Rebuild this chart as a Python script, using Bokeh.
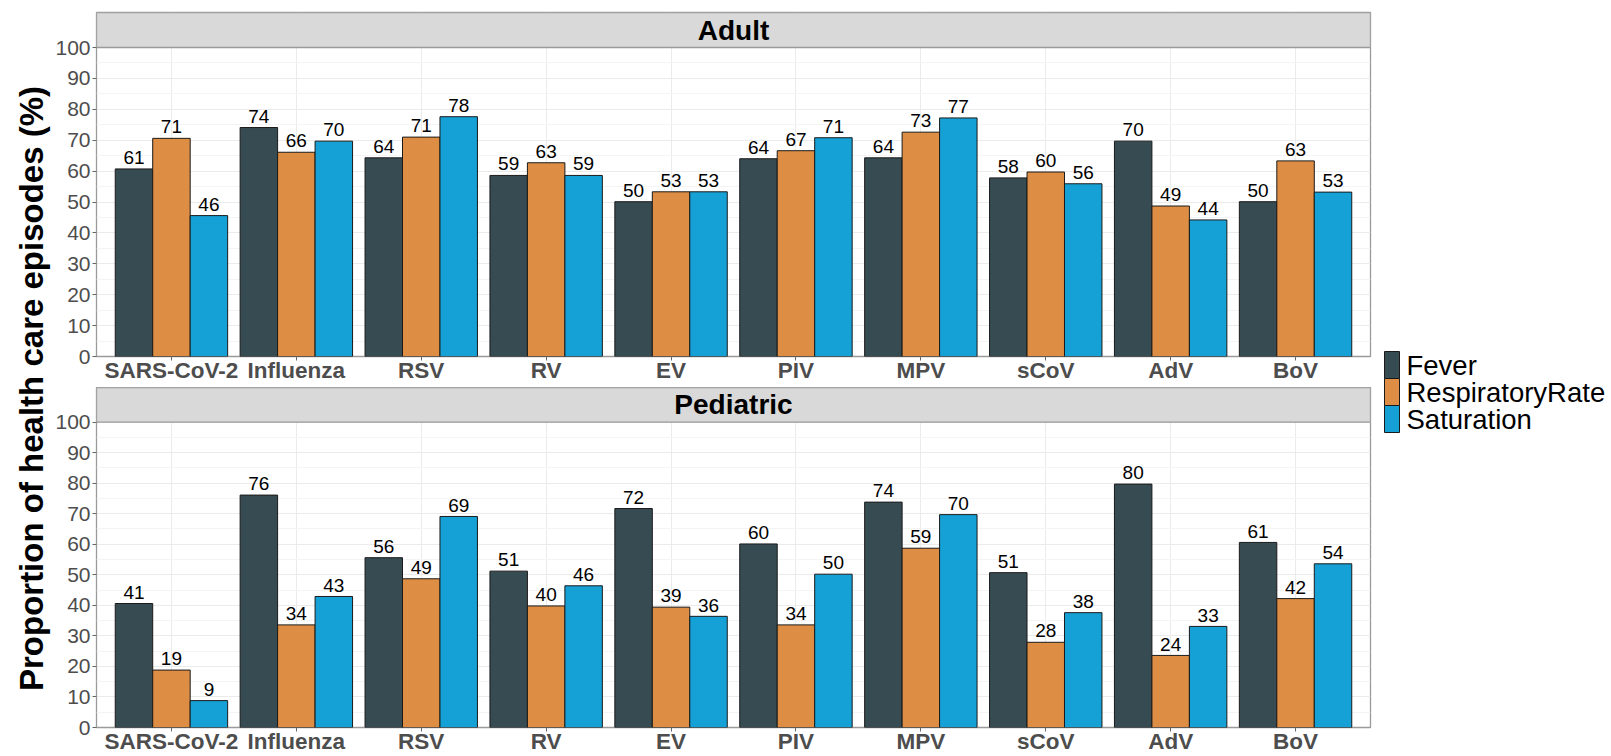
from math import pi
from bokeh.plotting import figure
from bokeh.layouts import row, column
from bokeh.models import Range1d, FixedTicker, ColumnDataSource
from bokeh.transform import dodge
from bokeh.core.properties import value
from bokeh.embed import file_html
from bokeh.resources import INLINE

# ---------------- data ----------------
categories = ["SARS-CoV-2", "Influenza", "RSV", "RV", "EV", "PIV", "MPV", "sCoV", "AdV", "BoV"]
series = ["Fever", "RespiratoryRate", "Saturation"]
colors = ["#374B53", "#DE8E44", "#15A1D5"]
panels = ["Adult", "Pediatric"]

adult_fever = [60.7, 74.1, 64.3, 58.6, 50.1, 64.0, 64.3, 57.8, 69.7, 50.1]
adult_resp = [70.6, 66.1, 71.0, 62.7, 53.3, 66.6, 72.6, 59.7, 48.7, 63.3]
adult_sat = [45.6, 69.7, 77.6, 58.6, 53.3, 70.8, 77.2, 55.9, 44.2, 53.2]

ped_fever = [40.6, 76.1, 55.6, 51.2, 71.7, 60.1, 73.8, 50.7, 79.7, 60.6]
ped_resp = [18.8, 33.6, 48.7, 39.8, 39.4, 33.6, 58.7, 27.9, 23.6, 42.2]
ped_sat = [8.8, 42.9, 69.1, 46.4, 36.4, 50.2, 69.7, 37.6, 33.1, 53.6]

y_ticks = [0, 10, 20, 30, 40, 50, 60, 70, 80, 90, 100]
y_minor = [5, 15, 25, 35, 45, 55, 65, 75, 85, 95]
y_title = "Proportion of health care episodes (%)"

# ---------------- style ----------------
FONT = "Liberation Sans"
BORDER = "#9A9A9A"
GRID = "#EBEBEB"
GRID_MINOR = "#F4F4F4"
TICK_TXT = "#4D4D4D"

TOTAL_H = 756
TITLE_W = 52
LEGEND_W = 239
PANEL_W = 1320
STRIP_H = 35
PLOT_H = 309
TOP_BORDER = 12
GAP = 31
B2 = 25
LABEL_LIFT = 3.7   # gap between bar top and its value label, in axis units


def make_panel(name, fever, resp, sat, top_border, bottom_border):
    ytop = 100.0 * (PLOT_H + STRIP_H) / PLOT_H
    height = top_border + STRIP_H + PLOT_H + bottom_border
    p = figure(width=PANEL_W, height=height,
               x_range=Range1d(0.4, 10.6), y_range=Range1d(0, ytop),
               output_backend="svg", toolbar_location=None,
               min_border_left=41, min_border_right=2,
               min_border_top=top_border, min_border_bottom=bottom_border)
    p.background_fill_color = "white"
    p.border_fill_color = "white"
    p.outline_line_color = BORDER
    p.outline_line_width = 1.3

    labels = {}
    for s, vals in zip(series, [fever, resp, sat]):
        labels[s + "_lbl"] = [str(int(v + 0.5)) for v in vals]
    src = ColumnDataSource(dict(xi=list(range(1, len(categories) + 1)),
                                Fever=fever, RespiratoryRate=resp, Saturation=sat,
                                **labels))

    offsets = [-0.3, 0.0, 0.3]
    for s, c, off in zip(series, colors, offsets):
        p.vbar(x=dodge("xi", off), top=s, bottom=0, width=0.3, source=src,
               fill_color=c, line_color="#1A1A1A", line_width=1)
        p.text(x=dodge("xi", off), y=dodge(s, LABEL_LIFT), text=s + "_lbl", source=src,
               text_align="center", text_baseline="alphabetic",
               text_font=value(FONT), text_font_size="19px", text_color="black")

    # facet strip
    p.quad(left=[0.4], right=[10.6], bottom=[100], top=[ytop],
           fill_color="#D9D9D9", line_color=BORDER, line_width=1.3)
    p.text(x=[5.5], y=[(100 + ytop) / 2], text=[name], text_align="center",
           text_baseline="middle", text_font=value(FONT), text_font_size="28px",
           text_font_style="bold", text_color="black")

    # axes
    p.xaxis.ticker = FixedTicker(ticks=list(range(1, len(categories) + 1)))
    p.xaxis.major_label_overrides = {i + 1: c for i, c in enumerate(categories)}
    p.xaxis.major_label_text_font = FONT
    p.xaxis.major_label_text_font_size = "22.5px"
    p.xaxis.major_label_text_font_style = "bold"
    p.xaxis.major_label_text_color = TICK_TXT
    p.xaxis.major_label_standoff = -3
    p.xaxis.major_tick_out = 4
    p.xaxis.major_tick_in = 0
    p.xaxis.minor_tick_line_color = None
    p.xaxis.major_tick_line_color = "#666666"
    p.xaxis.axis_line_color = None

    p.yaxis.ticker = FixedTicker(ticks=y_ticks, minor_ticks=y_minor)
    p.yaxis.major_label_text_font = FONT
    p.yaxis.major_label_text_font_size = "21px"
    p.yaxis.major_label_text_color = TICK_TXT
    p.yaxis.major_label_standoff = 2
    p.yaxis.major_tick_out = 4
    p.yaxis.major_tick_in = 0
    p.yaxis.minor_tick_line_color = None
    p.yaxis.major_tick_line_color = "#666666"
    p.yaxis.axis_line_color = None

    p.xgrid.grid_line_color = GRID
    p.ygrid.grid_line_color = GRID
    p.ygrid.minor_grid_line_color = GRID_MINOR
    return p


top = make_panel(panels[0], adult_fever, adult_resp, adult_sat, TOP_BORDER, GAP)
bottom = make_panel(panels[1], ped_fever, ped_resp, ped_sat, 0, B2)

# ---- y-axis title column ----
tfig = figure(width=TITLE_W, height=TOTAL_H, x_range=Range1d(0, TITLE_W),
              y_range=Range1d(0, TOTAL_H), output_backend="svg",
              toolbar_location=None, min_border=0)
tfig.axis.visible = False
tfig.grid.visible = False
tfig.outline_line_color = None
tfig.text(x=[30.5], y=[TOTAL_H - 388], text=[y_title], angle=pi / 2,
          text_align="center", text_baseline="middle", text_font=value(FONT),
          text_font_size="33px", text_font_style="bold", text_color="black")

# ---- legend column ----
lfig = figure(width=LEGEND_W, height=TOTAL_H, x_range=Range1d(0, LEGEND_W),
              y_range=Range1d(0, TOTAL_H), output_backend="svg",
              toolbar_location=None, min_border=0)
lfig.axis.visible = False
lfig.grid.visible = False
lfig.outline_line_color = None
key_top = TOTAL_H - 351
key_h = 27
for i, (s, c) in enumerate(zip(series, colors)):
    t = key_top - i * key_h
    lfig.quad(left=[12], right=[27], top=[t], bottom=[t - key_h],
              fill_color=c, line_color="#1A1A1A", line_width=1)
    lfig.text(x=[34], y=[t - key_h / 2], text=[s], text_align="left",
              text_baseline="middle", text_font=value(FONT),
              text_font_size="27.5px", text_color="black")

layout = row(tfig, column(top, bottom), lfig)

open("out.html", "w").write(file_html(layout, INLINE))
